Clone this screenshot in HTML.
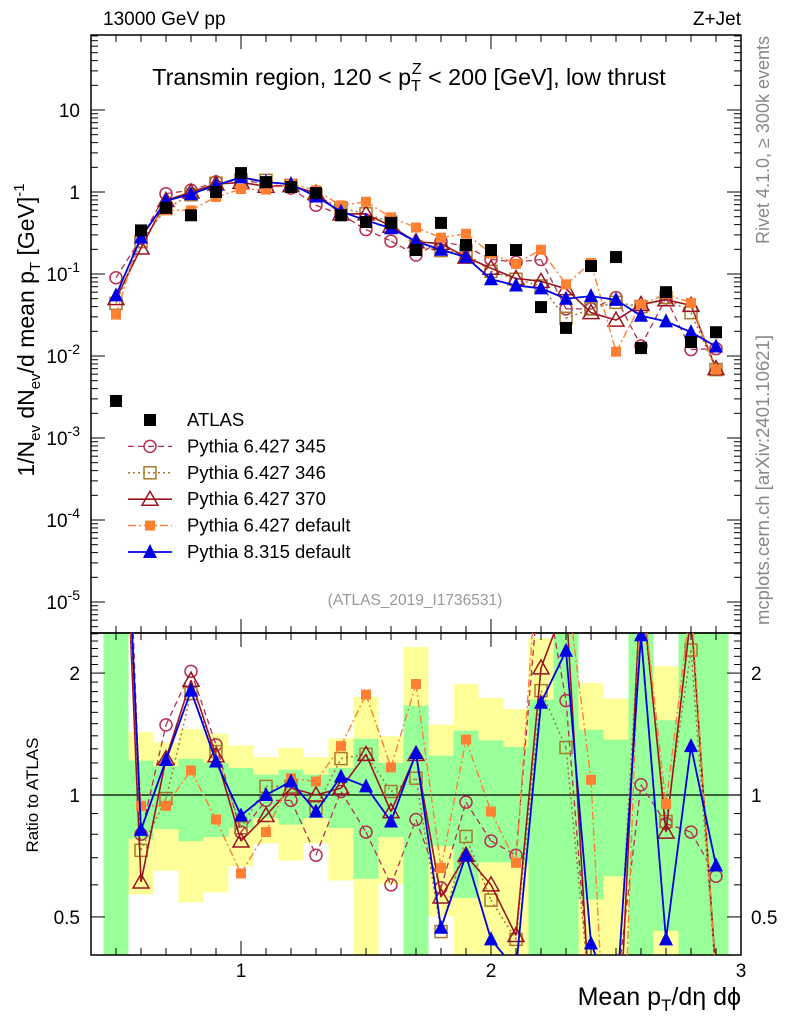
<!DOCTYPE html>
<html><head><meta charset="utf-8"><style>
html,body{margin:0;background:#fff;width:786px;height:1024px;overflow:hidden;}
svg{display:block;font-family:"Liberation Sans",Arial,sans-serif;overflow:hidden;}
</style></head><body>
<svg id="c" width="786" height="1024" viewBox="0 0 786 1024" xmlns="http://www.w3.org/2000/svg">
<defs>
<clipPath id="cm"><rect x="91" y="35" width="650" height="598"/></clipPath>
<clipPath id="cr"><rect x="91" y="633" width="650" height="322"/></clipPath>
</defs>
<g id="bands" clip-path="url(#cr)"></g>
<g id="grid"></g>
<text x="103" y="25" font-size="19">13000 GeV pp</text>
<text x="741" y="25" font-size="19" text-anchor="end">Z+Jet</text>
<text x="409" y="85" font-size="23.3" text-anchor="middle">Transmin region, 120 &lt; p<tspan font-size="16" dy="6">T</tspan><tspan font-size="16" dx="-9" dy="-17">Z</tspan><tspan dy="11"> &lt; 200 [GeV], low thrust</tspan></text>
<text x="415" y="605" font-size="15.5" fill="#999" text-anchor="middle">(ATLAS_2019_I1736531)</text>
<text transform="translate(769,140) rotate(-90)" font-size="18" fill="#888" text-anchor="middle">Rivet 4.1.0, ≥ 300k events</text>
<text transform="translate(769,480) rotate(-90)" font-size="18.5" fill="#888" text-anchor="middle">mcplots.cern.ch [arXiv:2401.10621]</text>
<text transform="translate(34,330) rotate(-90)" font-size="23" text-anchor="middle">1/N<tspan font-size="15" dy="6">ev</tspan><tspan dy="-6"> dN</tspan><tspan font-size="15" dy="6">ev</tspan><tspan dy="-6">/d mean p</tspan><tspan font-size="15" dy="6">T</tspan><tspan dy="-6"> [GeV]</tspan><tspan font-size="15" dy="-10">-1</tspan></text>
<text transform="translate(38,795) rotate(-90)" font-size="17" text-anchor="middle">Ratio to ATLAS</text>
<text x="741" y="1005" font-size="25" text-anchor="end">Mean p<tspan font-size="17" dy="6">T</tspan><tspan dy="-6">/dη dϕ</tspan></text>
<g id="mainData" clip-path="url(#cm)"></g>
<g id="ratioData" clip-path="url(#cr)"></g>
<g id="legend"></g>
</svg>
<script>
const xs=[0.5,0.6,0.7,0.8,0.9,1.0,1.1,1.2,1.3,1.4,1.5,1.6,1.7,1.8,1.9,2.0,2.1,2.2,2.3,2.4,2.5,2.6,2.7,2.8,2.9];
const atlas=[0.00283,0.34,0.64,0.52,1.0,1.7,1.32,1.15,0.97,0.52,0.43,0.42,0.196,0.42,0.226,0.196,0.196,0.0395,0.022,0.125,0.161,0.0125,0.06,0.0148,0.0195];
const r345=[31.8,0.80,1.49,2.02,1.33,0.81,0.97,0.97,0.71,1.02,0.81,0.60,0.87,0.59,0.96,0.77,0.71,3.8,1.71,0.30,0.32,1.06,0.85,0.81,0.63];
const r346=[15.5,0.73,0.98,1.78,1.28,0.83,1.05,1.05,0.93,1.23,1.26,1.02,1.10,0.46,0.79,0.55,0.44,1.81,1.31,0.30,0.28,3.2,0.86,2.28,0.35];
const r370=[17.7,0.61,1.23,1.92,1.25,0.77,0.89,1.04,1.0,1.04,1.26,0.91,1.26,0.56,0.71,0.60,0.45,2.06,3.0,0.27,0.17,3.4,0.81,2.8,0.36];
const r6def=[11.3,0.94,0.94,1.15,0.87,0.64,0.81,1.10,1.08,1.32,1.77,1.17,1.88,0.66,1.37,0.91,0.68,5.0,3.4,1.09,0.07,3.4,0.95,3.0,0.35];
const r8def=[19.4,0.82,1.22,1.81,1.21,0.89,1.0,1.08,0.91,1.11,1.05,0.86,1.27,0.47,0.71,0.44,0.37,1.69,2.27,0.43,0.30,2.48,0.44,1.32,0.67];
const yelLo=[0.4,0.568,0.65,0.543,0.575,0.667,0.759,0.689,0.759,0.615,0.4,0.603,0.4,0.502,0.4,0.4,0.4,0.4,0.4,0.4,0.4,0.4,0.4,0.4,0.4];
const yelHi=[2.6,1.43,1.349,1.455,1.417,1.326,1.241,1.306,1.241,1.38,1.746,1.396,2.32,1.492,1.88,1.736,1.63,2.44,2.6,1.89,1.73,2.6,2.08,2.6,2.6];
const grnLo=[0.4,0.78,0.824,0.769,0.787,0.829,0.877,0.845,0.877,0.829,0.621,0.787,0.4,0.747,0.557,0.682,0.682,0.4,0.4,0.552,0.63,0.4,0.462,0.4,0.4];
const grnHi=[2.6,1.216,1.177,1.228,1.2,1.166,1.122,1.155,1.122,1.166,1.375,1.2,1.663,1.25,1.442,1.364,1.314,1.72,2.6,1.449,1.37,2.6,1.53,2.6,2.6];
const yTickExp=[1,0,-1,-2,-3,-4,-5];
const rTicks=[0.5,1,2];
const xTicks=[1,2,3];

const NS="http://www.w3.org/2000/svg";
const X=v=>91+(v-0.4)*250;
const YM=v=>192-82*Math.log10(v);
const YR=r=>795-405*Math.log10(r);
function mk(tag,attrs,parent){const e=document.createElementNS(NS,tag);for(const k in attrs)e.setAttribute(k,attrs[k]);parent.appendChild(e);return e;}
const svg=document.getElementById('c');
const grid=document.getElementById('grid');

const bands=document.getElementById('bands');
xs.forEach((x,i)=>{
  const y=mk('rect',{x:X(x-0.05),width:25,y:YR(yelHi[i]),height:YR(yelLo[i])-YR(yelHi[i]),fill:'#ffff99'},bands);
  
  
  const g=mk('rect',{x:X(x-0.05),width:25,y:YR(grnHi[i]),height:YR(grnLo[i])-YR(grnHi[i]),fill:'#99ff99'},bands);
  
  
});

const f1=mk('rect',{x:91,y:35,width:650,height:598,fill:'none',stroke:'#000','stroke-width':1.5},grid);


const f2=mk('rect',{x:91,y:633,width:650,height:322,fill:'none',stroke:'#000','stroke-width':1.5},grid);


mk('line',{x1:91,x2:741,y1:YR(1),y2:YR(1),stroke:'#000','stroke-width':1.2},grid);

for(let k=5;k<=29;k++){const v=k/10;const major=(k%10===0);const L=major?14:7;
  [35,633].forEach(yy=>{mk('line',{x1:X(v),x2:X(v),y1:yy,y2:yy+L,stroke:'#000'},grid);});
  [633,955].forEach(yy=>{mk('line',{x1:X(v),x2:X(v),y1:yy,y2:yy-L,stroke:'#000'},grid);});
}
xTicks.forEach(v=>{const t=mk('text',{x:X(v),y:977,'font-size':19,'text-anchor':'middle'},svg);t.textContent=v;
  
  });
for(let e=-6;e<=1;e++){for(let m=1;m<10;m++){const v=m*Math.pow(10,e);const y=YM(v);if(y<35||y>633)continue;const L=m===1?14:7;
  mk('line',{x1:91,x2:91+L,y1:y,y2:y,stroke:'#000'},grid);mk('line',{x1:741,x2:741-L,y1:y,y2:y,stroke:'#000'},grid);}}
yTickExp.forEach(e=>{const t=mk('text',{x:80,y:YM(Math.pow(10,e))+7,'font-size':19,'text-anchor':'end'},svg);
  
  
  if(e===1)t.textContent='10';else if(e===0)t.textContent='1';
  else{t.textContent='10';const s=mk('tspan',{'font-size':14,dy:-9},t);s.textContent=String(e);}});
for(let m=4;m<=25;m++){const v=m/10;const y=YR(v);if(y<633||y>955)continue;const L=(v===0.5||v===1||v===2)?14:7;
  mk('line',{x1:91,x2:91+L,y1:y,y2:y,stroke:'#000'},grid);mk('line',{x1:741,x2:741-L,y1:y,y2:y,stroke:'#000'},grid);}
rTicks.forEach(v=>{const t=mk('text',{x:80,y:YR(v)+7,'font-size':19,'text-anchor':'end'},svg);t.textContent=v;
  
  
  const t2=mk('text',{x:751,y:YR(v)+7,'font-size':19},svg);t2.textContent=v;
  
  });

function marker(g,type,x,y,col){
  let e;
  if(type==='sq')e=mk('rect',{x:x-6,y:y-6,width:12,height:12,fill:col},g);
  else if(type==='osq')e=mk('rect',{x:x-6,y:y-6,width:12,height:12,fill:'none',stroke:col,'stroke-width':1.5},g);
  else if(type==='oc')e=mk('circle',{cx:x,cy:y,r:6,fill:'none',stroke:col,'stroke-width':1.5},g);
  else if(type==='fsq')e=mk('rect',{x:x-5,y:y-5,width:10,height:10,fill:col},g);
  else if(type==='otri')e=mk('polygon',{points:`${x},${y-8} ${x-8},${y+6} ${x+8},${y+6}`,fill:'none',stroke:col,'stroke-width':1.5},g);
  else e=mk('polygon',{points:`${x},${y-8} ${x-7},${y+6} ${x+7},${y+6}`,fill:col},g);
  return e;
}
// clipped path builder: clip segments to y range [lo,hi]
function clipPath(pts,lo,hi){
  let d='';
  for(let i=0;i<pts.length-1;i++){
    let [x1,y1]=pts[i],[x2,y2]=pts[i+1];
    if((y1<lo&&y2<lo)||(y1>hi&&y2>hi))continue;
    const f=(yy)=>x1+(x2-x1)*(yy-y1)/(y2-y1);
    let ax=x1,ay=y1,bx=x2,by=y2;
    if(ay<lo){ax=f(lo);ay=lo;} else if(ay>hi){ax=f(hi);ay=hi;}
    if(by<lo){bx=f(lo);by=lo;} else if(by>hi){bx=f(hi);by=hi;}
    d+=`M${ax.toFixed(2)},${ay.toFixed(2)}L${bx.toFixed(2)},${by.toFixed(2)}`;
  }
  return d;
}
const series=[
 {name:'Pythia 6.427 345',r:r345,col:'#b5304f',dash:'6,4',m:'oc',w:1.3},
 {name:'Pythia 6.427 346',r:r346,col:'#a57a2e',dash:'2,3',m:'osq',w:1.5},
 {name:'Pythia 6.427 370',r:r370,col:'#9b1520',dash:'',m:'otri',w:1.6},
 {name:'Pythia 6.427 default',r:r6def,col:'#ff8033',dash:'8,3,2,3',m:'fsq',w:1.4},
 {name:'Pythia 8.315 default',r:r8def,col:'#0000e6',dash:'',m:'tri',w:1.8}
];
const mainG=document.getElementById('mainData');
const ratG=document.getElementById('ratioData');
series.forEach(s=>{
  const mv=s.r.map((r,i)=>r*atlas[i]);
  const p1=mk('path',{d:clipPath(xs.map((x,i)=>[X(x),YM(mv[i])]),35,633),fill:'none',stroke:s.col,'stroke-width':s.w,'stroke-dasharray':s.dash},mainG);
  
  
  const p2=mk('path',{d:clipPath(xs.map((x,i)=>[X(x),YR(s.r[i])]),633,955),fill:'none',stroke:s.col,'stroke-width':s.w,'stroke-dasharray':s.dash},ratG);
  
  
  xs.forEach((x,i)=>{
    const ym=YM(mv[i]);
    if(ym>30&&ym<640){
      const a=marker(mainG,s.m,X(x),ym,s.col);
      
      
    }
    const yr=YR(s.r[i]);
    if(yr>625&&yr<962){
      const b=marker(ratG,s.m,X(x),yr,s.col);
      
      
    }
  });
});
xs.forEach((x,i)=>{const a=marker(mainG,'sq',X(x),YM(atlas[i]),'#000');
  
  });

const lg=document.getElementById('legend');
const entries=[{name:'ATLAS',m:'sq',col:'#000',dash:'none'}].concat(series);
entries.forEach((s,i)=>{const y=420+i*26.4;
  if(i>0){const l=mk('line',{x1:128,x2:172,y1:y,y2:y,stroke:s.col,'stroke-width':s.w,'stroke-dasharray':s.dash},lg);
    
    }
  const mm=marker(lg,s.m,150,y,s.col);
  
  
  const t=mk('text',{x:187,y:y+6,'font-size':18.5},lg);t.textContent=s.name;
  
  
});
</script>
</body></html>
